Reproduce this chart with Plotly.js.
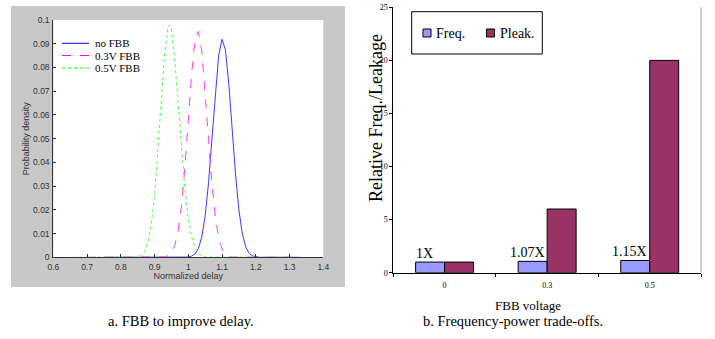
<!DOCTYPE html>
<html>
<head>
<meta charset="utf-8">
<script src="https://cdn.plot.ly/plotly-3.0.1.min.js"></script>
<style>html,body{margin:0;padding:0;background:#fff;}#chart{width:715px;height:339px;}</style>
</head>
<body>
<div id="chart"></div>
<script>
// ---- Panel a: probability density of normalized delay ----
const noFbbX  = [0.75, 0.99, 1.00, 1.01, 1.02, 1.03, 1.04, 1.05, 1.06, 1.07, 1.08, 1.09, 1.10, 1.11, 1.12, 1.13, 1.14, 1.15, 1.16, 1.17, 1.18, 1.19, 1.20, 1.21, 1.33];
const noFbbY  = [0, 0, 0.0001, 0.0005, 0.0014, 0.0037, 0.0086, 0.0175, 0.0315, 0.0498, 0.0695, 0.0852, 0.0919, 0.0874, 0.0731, 0.0538, 0.0349, 0.0199, 0.0100, 0.0044, 0.0017, 0.0006, 0.0002, 0, 0];
const fbb03X  = [0.70, 0.92, 0.93, 0.94, 0.95, 0.96, 0.97, 0.98, 0.99, 1.00, 1.01, 1.02, 1.03, 1.04, 1.05, 1.06, 1.07, 1.08, 1.09, 1.10, 1.11, 1.12, 1.13, 1.33];
const fbb03Y  = [0, 0.0001, 0.0002, 0.0007, 0.0020, 0.0050, 0.0112, 0.0220, 0.0380, 0.0579, 0.0776, 0.0916, 0.0952, 0.0870, 0.0701, 0.0497, 0.0310, 0.0170, 0.0082, 0.0035, 0.0013, 0.0004, 0.0001, 0];
const fbb05X  = [0.66, 0.84, 0.85, 0.86, 0.87, 0.88, 0.89, 0.90, 0.91, 0.92, 0.93, 0.94, 0.945, 0.95, 0.96, 0.97, 0.98, 0.99, 1.00, 1.01, 1.02, 1.03, 1.04, 1.05, 1.30];
const fbb05Y  = [0, 0.0001, 0.0002, 0.0008, 0.0023, 0.0059, 0.0133, 0.0260, 0.0443, 0.0660, 0.0857, 0.0969, 0.0980, 0.0960, 0.0830, 0.0640, 0.0450, 0.0290, 0.0160, 0.0085, 0.0040, 0.0015, 0.0005, 0.0001, 0];
const curveNames = ['no FBB', '0.3V FBB', '0.5V FBB'];

// ---- Panel b: frequency / leakage trade-off ----
const fbbVoltage  = ['0', '0.3', '0.5'];
const relFreq     = [1, 1.07, 1.15];
const relLeak     = [1, 6, 20];
const freqLabels  = ['1X', '1.07X', '1.15X'];
const seriesNames = ['Freq.', 'Pleak.'];

const SERIF = 'Liberation Serif, Times New Roman, serif';
const SANS = 'Liberation Sans, Arial, sans-serif';
const W = 715, H = 339;
const px = v => v / W;
const py = v => 1 - v / H;

const curveStyles = [
  {color: '#3a3aff', legend: '#0000ff', dash: 'solid'},
  {color: '#ff3cff', legend: '#ff00ff', dash: 'dash'},
  {color: '#44ff44', legend: '#00ff00', dash: 'dot'}
];
const curveData = [[noFbbX, noFbbY], [fbb03X, fbb03Y], [fbb05X, fbb05Y]];

const traces = curveData.map((d, i) => ({
  type: 'scatter', mode: 'lines', x: d[0], y: d[1], name: curveNames[i],
  xaxis: 'x', yaxis: 'y', showlegend: false,
  line: {color: curveStyles[i].color, dash: curveStyles[i].dash, width: 1}
}));

const barColors = ['#9999ff', '#993366'];
traces.push({
  type: 'bar', x: fbbVoltage, y: relFreq, name: seriesNames[0], xaxis: 'x2', yaxis: 'y2', showlegend: false,
  marker: {color: barColors[0], line: {color: '#000', width: 1}}
});
traces.push({
  type: 'bar', x: fbbVoltage, y: relLeak, name: seriesNames[1], xaxis: 'x2', yaxis: 'y2', showlegend: false,
  marker: {color: barColors[1], line: {color: '#000', width: 1}}
});

const shapes = [
  // gray figure frame of panel a
  {type: 'rect', xref: 'paper', yref: 'paper', x0: px(11), x1: px(345), y0: py(287), y1: py(6),
   fillcolor: '#c8c8c8', line: {width: 0}, layer: 'below'},
  // white axes area of panel a
  {type: 'rect', xref: 'x domain', yref: 'y domain', x0: 0, x1: 1, y0: 0, y1: 1,
   fillcolor: '#ffffff', line: {width: 0}, layer: 'below'},
  // right border of panel b
  {type: 'line', xref: 'x2 domain', yref: 'y2 domain', x0: 1, x1: 1, y0: 0, y1: 1,
   line: {color: '#a0a0a0', width: 1}},
  // legend box of panel b
  {type: 'rect', xref: 'paper', yref: 'paper', x0: px(411.7), x1: px(542.3), y0: py(54), y1: py(11.7),
   fillcolor: 'rgba(0,0,0,0)', line: {color: '#000', width: 1}}
];

const annotations = [];

// legend of panel a
const legendRowsY = [43.3, 55.5, 68];
curveNames.forEach((n, i) => {
  shapes.push({type: 'line', xref: 'paper', yref: 'paper', x0: px(62), x1: px(89),
    y0: py(legendRowsY[i]), y1: py(legendRowsY[i]),
    line: {color: curveStyles[i].legend, dash: curveStyles[i].dash, width: 1}});
  annotations.push({xref: 'paper', yref: 'paper', x: px(93), y: py(legendRowsY[i]),
    xanchor: 'left', yanchor: 'middle', showarrow: false, text: n,
    font: {family: SERIF, size: 11, color: '#000'}});
});

// legend of panel b
const legendSwatchX = [427, 490.5];
const legendTextX = [434, 498];
seriesNames.forEach((n, i) => {
  shapes.push({type: 'rect', xref: 'paper', yref: 'paper',
    x0: px(legendSwatchX[i] - 4), x1: px(legendSwatchX[i] + 4), y0: py(37), y1: py(29),
    fillcolor: barColors[i], line: {color: '#000', width: 1}});
  annotations.push({xref: 'paper', yref: 'paper', x: px(legendTextX[i]), y: py(33),
    xanchor: 'left', yanchor: 'middle', showarrow: false, text: n,
    font: {family: SERIF, size: 14, color: '#000'}});
});

// value labels above the frequency bars
freqLabels.forEach((t, i) => {
  annotations.push({xref: 'x2', yref: 'y2', x: i, y: relFreq[i], xshift: -20, yshift: -1,
    xanchor: 'center', yanchor: 'bottom', showarrow: false, text: t,
    font: {family: SERIF, size: 14, color: '#000'}});
});

annotations.push({xref: 'paper', yref: 'paper', x: px(376), y: py(118), xanchor: 'center', yanchor: 'middle',
  textangle: -90, showarrow: false, text: 'Relative Freq./Leakage',
  font: {family: SERIF, size: 18, color: '#000'}});
annotations.push({xref: 'paper', yref: 'paper', x: px(527.5), y: py(305), xanchor: 'center', yanchor: 'middle',
  showarrow: false, text: 'FBB voltage', font: {family: SERIF, size: 13, color: '#000'}});
annotations.push({xref: 'paper', yref: 'paper', x: px(180.8), y: py(321), xanchor: 'center', yanchor: 'middle',
  showarrow: false, text: 'a. FBB to improve delay.', font: {family: SERIF, size: 14.5, color: '#000'}});
annotations.push({xref: 'paper', yref: 'paper', x: px(512.5), y: py(321), xanchor: 'center', yanchor: 'middle',
  showarrow: false, text: 'b. Frequency-power trade-offs.', font: {family: SERIF, size: 14.5, color: '#000'}});

const layout = {
  width: W, height: H, autosize: false,
  margin: {l: 0, r: 0, t: 0, b: 0, pad: 0},
  paper_bgcolor: '#ffffff', plot_bgcolor: 'rgba(0,0,0,0)',
  showlegend: false,
  barmode: 'group', bargap: 0.435, bargroupgap: 0,
  xaxis: {domain: [px(53.3), px(323.3)], range: [0.6, 1.4], dtick: 0.1, tick0: 0.6,
    showgrid: false, zeroline: false, showline: true, linecolor: '#333', linewidth: 1,
    ticks: 'inside', ticklen: 3, tickcolor: '#333', ticklabelstandoff: 1,
    tickfont: {family: SANS, size: 8.5, color: '#333'},
    title: {text: 'Normalized delay', font: {family: SANS, size: 9, color: '#333'}, standoff: 1},
    anchor: 'y'},
  yaxis: {domain: [py(257.3), py(20)], range: [0, 0.1], dtick: 0.01, tick0: 0,
    showgrid: false, zeroline: false, showline: true, linecolor: '#333', linewidth: 1,
    ticks: 'inside', ticklen: 3, tickcolor: '#333', ticklabelstandoff: 1,
    tickfont: {family: SANS, size: 8.5, color: '#333'},
    title: {text: 'Probability density', font: {family: SANS, size: 9, color: '#333'}, standoff: 1},
    anchor: 'x'},
  xaxis2: {domain: [px(393.3), px(701)], type: 'category', anchor: 'y2',
    showgrid: false, zeroline: false, showline: true, linecolor: '#000', linewidth: 1,
    ticks: 'outside', tickson: 'boundaries', ticklen: 3, tickcolor: '#000',
    tickfont: {family: SERIF, size: 8, color: '#000'}, ticklabelstandoff: 5},
  yaxis2: {domain: [py(272.7), py(7.3)], range: [0, 25], dtick: 5, tick0: 0, anchor: 'x2',
    showgrid: false, zeroline: false, showline: true, linecolor: '#000', linewidth: 1,
    ticks: 'outside', ticklen: 3, tickcolor: '#000',
    tickfont: {family: SERIF, size: 8, color: '#000'}},
  shapes: shapes,
  annotations: annotations
};

Plotly.newPlot('chart', traces, layout, {staticPlot: true, displayModeBar: false});
</script>
</body>
</html>
